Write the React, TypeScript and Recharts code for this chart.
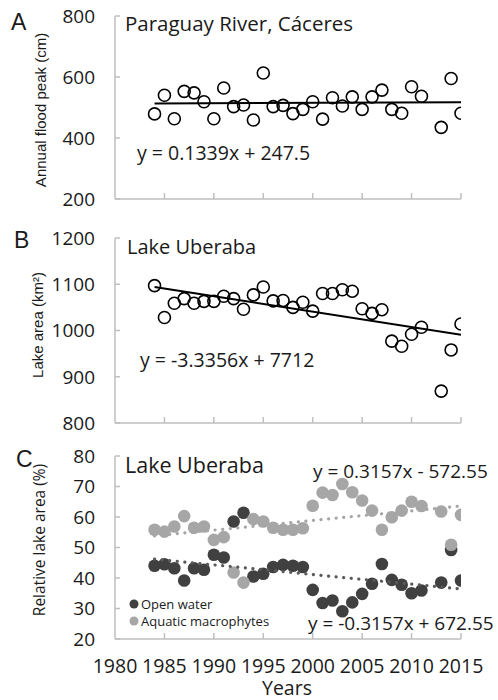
import { ScatterChart, Scatter, XAxis, YAxis, ReferenceLine } from 'recharts';

// years sampled (no 2012 record)
const YEARS = [
  1984, 1985, 1986, 1987, 1988, 1989, 1990, 1991, 1992, 1993, 1994, 1995, 1996, 1997, 1998, 1999,
  2000, 2001, 2002, 2003, 2004, 2005, 2006, 2007, 2008, 2009, 2010, 2011, 2013, 2014, 2015,
];

// A: annual flood peak (cm)
const FLOOD_PEAK = [
  479, 540, 463, 553, 548, 519, 463, 564, 503, 508, 459, 613, 503, 507, 480, 494,
  519, 462, 532, 505, 535, 494, 535, 557, 494, 481, 568, 537, 435, 595, 481,
];

// B: lake area (km2)
const LAKE_AREA = [
  1097, 1028, 1059, 1069, 1059, 1063, 1063, 1074, 1069, 1046, 1077, 1094, 1064, 1065, 1050, 1061,
  1042, 1080, 1080, 1088, 1085, 1047, 1037, 1045, 977, 966, 992, 1007, 869, 958, 1014,
];

// C: relative lake area (%)
const OPEN_WATER = [
  44.0, 44.5, 43.2, 39.2, 43.2, 42.7, 47.6, 46.7, 58.5, 61.4, 40.5, 41.4, 43.6, 44.3, 44.0, 43.6,
  36.1, 31.8, 32.6, 29.1, 32.0, 34.8, 38.1, 44.6, 39.4, 37.8, 35.0, 35.9, 38.5, 49.2, 39.2,
];
const MACROPHYTES = [
  55.8, 55.2, 56.9, 60.3, 56.5, 56.9, 52.5, 53.4, 41.8, 38.5, 59.3, 58.5, 56.5, 55.8, 55.8, 56.3,
  63.7, 68.0, 67.2, 70.8, 68.1, 65.4, 62.1, 55.8, 59.9, 62.1, 65.0, 63.6, 61.8, 50.9, 60.7,
];

// linear trend end points
const TREND_YEARS = [1984, 2015];
const TREND_A = [513.2, 517.3];
const TREND_B = [1094.2, 990.8];
const TREND_OPEN = [46.2, 36.4];
const TREND_MACRO = [53.8, 63.6];

const YEAR_TICKS = [1980, 1985, 1990, 1995, 2000, 2005, 2010, 2015];
const TICKS_A = [200, 400, 600, 800];
const TICKS_B = [800, 900, 1000, 1100, 1200];
const TICKS_C = [20, 30, 40, 50, 60, 70, 80];

const AXIS = '#bfbfbf';
const DARK = '#404040';
const LIGHT = '#a6a6a6';
const TEXT = '#1a1a1a';
const FONT = '"Open Sans", sans-serif';
const ARIAL = '"Liberation Sans", Arial, sans-serif';

const pts = (vals: number[], xs: number[] = YEARS) => vals.map((v, i) => ({ x: xs[i], y: v }));

function YTick({ x, y, payload }: any) {
  return (
    <g>
      <line x1={x} x2={x + 5} y1={y} y2={y} stroke={AXIS} strokeWidth={1.5} />
      <text x={x - 20} y={y} dy="0.36em" textAnchor="end" fontSize={19} fill={TEXT} fontFamily={FONT}>
        {payload.value}
      </text>
    </g>
  );
}

function makeXTick(showLabel: boolean) {
  return function XTick({ x, y, payload }: any) {
    return (
      <g>
        {payload.value !== 1980 && (
          <line x1={x} x2={x} y1={y} y2={y - 6} stroke={AXIS} strokeWidth={1.5} />
        )}
        {showLabel && (
          <text x={x} y={y + 34} textAnchor="middle" fontSize={19.5} fill={TEXT} fontFamily={FONT}>
            {payload.value}
          </text>
        )}
      </g>
    );
  };
}

const openCircle = (p: any) => (
  <circle cx={p.cx} cy={p.cy} r={6} fill="none" stroke="#000" strokeWidth={1.6} />
);
const dot = (color: string) => (p: any) => <circle cx={p.cx} cy={p.cy} r={6.3} fill={color} />;
const noShape = () => <g />;

interface PanelProps {
  top: number;
  height: number;
  marginTop: number;
  xHeight: number;
  yDomain: [number, number];
  yTicks: number[];
  showYears?: boolean;
  children: React.ReactNode;
}

function Panel({ top, height, marginTop, xHeight, yDomain, yTicks, showYears = false, children }: PanelProps) {
  return (
    <div style={{ position: 'absolute', left: 0, top }}>
      <ScatterChart width={498} height={height} margin={{ top: marginTop, right: 37, bottom: 0, left: 0 }}>
        <XAxis
          type="number"
          dataKey="x"
          domain={[1980, 2015]}
          ticks={YEAR_TICKS}
          interval={0}
          height={xHeight}
          tickSize={0}
          tickMargin={0}
          tickLine={false}
          axisLine={false}
          tick={makeXTick(showYears)}
          allowDataOverflow
        />
        <YAxis
          type="number"
          dataKey="y"
          domain={yDomain}
          ticks={yTicks}
          interval={0}
          width={115}
          tickSize={0}
          tickMargin={0}
          tickLine={false}
          axisLine={{ stroke: AXIS, strokeWidth: 1.5 }}
          tick={<YTick />}
          allowDataOverflow
        />
        <ReferenceLine
          segment={[
            { x: YEAR_TICKS[0], y: yDomain[0] },
            { x: YEAR_TICKS[YEAR_TICKS.length - 1], y: yDomain[0] },
          ]}
          stroke={AXIS}
          strokeWidth={1.5}
        />
        {children}
      </ScatterChart>
    </div>
  );
}

export default function App() {
  const dotted = { strokeWidth: 3.2, strokeDasharray: '0.1 7.5', strokeLinecap: 'round' as const };
  return (
    <div style={{ position: 'absolute', left: 0, top: 0, width: 498, height: 700, background: '#fff', overflow: 'hidden' }}>
      <Panel top={0} height={215} marginTop={16} xHeight={16} yDomain={[200, 800]} yTicks={TICKS_A}>
        <Scatter data={pts(FLOOD_PEAK)} shape={openCircle} isAnimationActive={false} />
        <Scatter
          data={pts(TREND_A, TREND_YEARS)}
          shape={noShape}
          line={{ stroke: '#000', strokeWidth: 2 }}
          isAnimationActive={false}
        />
      </Panel>

      <Panel top={215} height={225} marginTop={23} xHeight={17} yDomain={[800, 1200]} yTicks={TICKS_B}>
        <Scatter data={pts(LAKE_AREA)} shape={openCircle} isAnimationActive={false} />
        <Scatter
          data={pts(TREND_B, TREND_YEARS)}
          shape={noShape}
          line={{ stroke: '#000', strokeWidth: 2 }}
          isAnimationActive={false}
        />
      </Panel>

      <Panel top={440} height={260} marginTop={16} xHeight={61} yDomain={[20, 80]} yTicks={TICKS_C} showYears>
        <Scatter data={pts(OPEN_WATER)} shape={dot(DARK)} isAnimationActive={false} />
        <Scatter data={pts(MACROPHYTES)} shape={dot(LIGHT)} isAnimationActive={false} />
        <Scatter
          data={pts(TREND_OPEN, TREND_YEARS)}
          shape={noShape}
          line={{ stroke: '#595959', ...dotted }}
          isAnimationActive={false}
        />
        <Scatter
          data={pts(TREND_MACRO, TREND_YEARS)}
          shape={noShape}
          line={{ stroke: LIGHT, ...dotted }}
          isAnimationActive={false}
        />
      </Panel>

      <svg
        width={498}
        height={700}
        style={{ position: 'absolute', left: 0, top: 0, pointerEvents: 'none' }}
      >
        <g fontFamily={ARIAL} fill={TEXT} fontSize={23}>
          <text x={11} y={30}>A</text>
          <text x={14} y={248}>B</text>
          <text x={16} y={467}>C</text>
        </g>
        <g fontFamily={FONT} fill={TEXT}>
          <text x={125} y={31} fontSize={20.5}>Paraguay River, Cáceres</text>
          <text x={127} y={254} fontSize={20}>Lake Uberaba</text>
          <text x={125} y={473} fontSize={21.5}>Lake Uberaba</text>
          <text x={137} y={160} fontSize={19.5}>y = 0.1339x + 247.5</text>
          <text x={140} y={367} fontSize={19.5}>y = -3.3356x + 7712</text>
          <text x={313} y={478} fontSize={19}>y = 0.3157x - 572.55</text>
          <text x={308} y={630} fontSize={19}>y = -0.3157x + 672.55</text>
          <text x={287} y={695} fontSize={19.5} textAnchor="middle">Years</text>
          <text transform="translate(45 540) rotate(-90)" fontSize={15.5} textAnchor="middle">
            Relative lake area (%)
          </text>
        </g>
        <g fontFamily={ARIAL} fill={TEXT} fontSize={15}>
          <text transform="translate(46 110) rotate(-90)" textAnchor="middle">Annual flood peak (cm)</text>
          <text transform="translate(43 325) rotate(-90)" textAnchor="middle">Lake area (km²)</text>
        </g>
        <g fontFamily={FONT} fill={TEXT} fontSize={13}>
          <circle cx={134} cy={604} r={4.5} fill={DARK} />
          <text x={141} y={608.5}>Open water</text>
          <circle cx={134} cy={621} r={4.5} fill={LIGHT} />
          <text x={141} y={626}>Aquatic macrophytes</text>
        </g>
      </svg>
    </div>
  );
}
